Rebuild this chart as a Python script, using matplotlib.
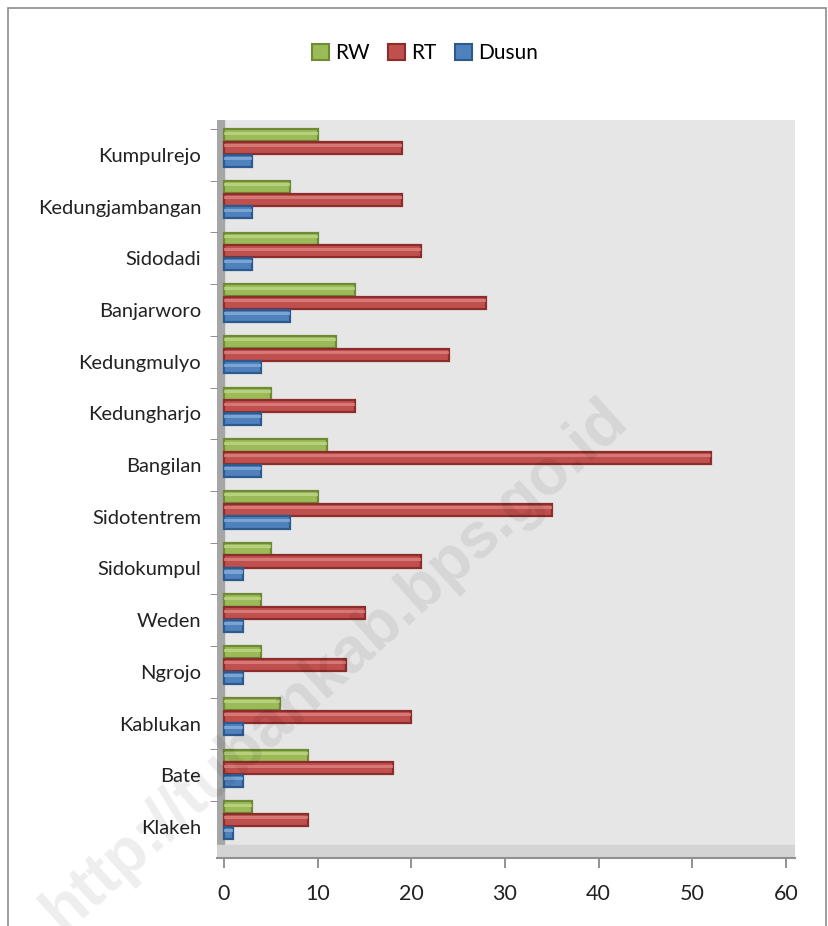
import matplotlib.pyplot as plt
import numpy as np
from matplotlib.patches import Rectangle, Patch

# Data (top to bottom as shown)
desa = ["Kumpulrejo", "Kedungjambangan", "Sidodadi", "Banjarworo", "Kedungmulyo",
        "Kedungharjo", "Bangilan", "Sidotentrem", "Sidokumpul", "Weden",
        "Ngrojo", "Kablukan", "Bate", "Klakeh"]
rw = [10, 7, 10, 14, 12, 5, 11, 10, 5, 4, 4, 6, 9, 3]
rt = [19, 19, 21, 28, 24, 14, 52, 35, 21, 15, 13, 20, 18, 9]
dusun = [3, 3, 3, 7, 4, 4, 4, 7, 2, 2, 2, 2, 2, 1]
xticks = [0, 10, 20, 30, 40, 50, 60]

plt.rcParams['font.family'] = ['Lato', 'DejaVu Sans']

W, H = 829, 926
fig = plt.figure(figsize=(W / 100, H / 100), dpi=100)

# axes: x=0 at px 224, 60 at px 786 ; y from px 858 (bottom) to 120 (top)
ppu = (786 - 224) / 60
x0, x1 = -0.8, 61
left_px = 224 + x0 * ppu
right_px = 224 + x1 * ppu
ax = fig.add_axes([left_px / W, 1 - 858 / H, (right_px - left_px) / W, (858 - 120) / H])
ax.set_facecolor('#e6e6e6')

# category positions, Klakeh = 0 at bottom
n = len(desa)
pos = np.arange(n)[::-1]
step = 51.7
ax.set_ylim((827 - 858) / step, (827 - 120) / step)
ax.set_xlim(x0, x1)

# walls / floor
ax.axvspan(x0, 0, color='#a6a6a6', zorder=1)
ax.axhspan((827 - 858) / step, (827 - 845) / step, color='#d4d4d4', zorder=1)

h = 0.235
shift = 0.135
series = [
    (rw, '#9bbb59', '#6f8a35', '#c3d98d', 0.245),
    (rt, '#c0504d', '#8c2d2b', '#e08a87', 0.0),
    (dusun, '#4f81bd', '#2c5a8f', '#8fb3de', -0.245),
]
for vals, col, dark, light, off in series:
    yy = pos + shift + off
    ax.barh(yy, vals, height=h, color=col, edgecolor=dark, linewidth=1.6, zorder=3)
    ax.barh(yy + h * 0.18, vals, height=h * 0.25, color=light, linewidth=0, zorder=4, alpha=0.7)

ax.set_yticks(pos)
ax.set_yticklabels(desa, fontsize=14.5, color='#222222')
ax.set_yticks(pos + 0.5, minor=True)
ax.tick_params(axis='y', which='major', length=0, pad=11)
ax.tick_params(axis='y', which='minor', length=5, color='#808080', direction='out')

ax.set_xticks(xticks)
ax.set_xticklabels([str(v) for v in xticks], fontsize=15.5, color='#222222')
ax.tick_params(axis='x', length=7, color='#808080', width=1.2, pad=12)

for s in ['top', 'right', 'left']:
    ax.spines[s].set_visible(False)
ax.spines['bottom'].set_color('#909090')
ax.spines['bottom'].set_linewidth(1.5)

# legend
handles = [Patch(facecolor=c, edgecolor=d, linewidth=1.5) for _, c, d, _, _ in series]
fig.legend(handles, ["RW", "RT", "Dusun"], loc='center', bbox_to_anchor=(425 / W, 1 - 53 / H),
           ncol=3, frameon=False, fontsize=15, handlelength=0.8, handleheight=0.8,
           handletextpad=0.3, columnspacing=0.9)

# chart border
fig.patches.append(Rectangle((8 / W, -0.02), (826 - 8) / W, 1 - 8 / H + 0.02,
                             transform=fig.transFigure, fill=False,
                             edgecolor='#8c8c8c', linewidth=1.2))

# watermark
fig.text(335 / W, 1 - 665 / H, "http://tubankab.bps.go.id", rotation=42,
         ha='center', va='center', fontsize=46, fontweight='bold',
         color='black', alpha=0.07, family=['Liberation Sans', 'DejaVu Sans'], zorder=10)

fig.savefig("out.png", dpi=100)
